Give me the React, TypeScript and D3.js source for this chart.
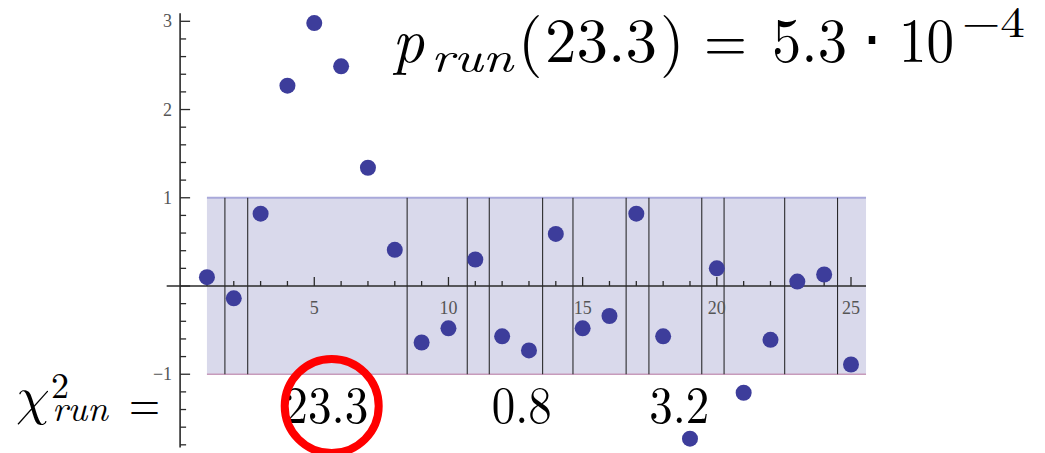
import React from "react";
import * as d3 from "d3";

const xValues = [1, 2, 3, 4, 5, 6, 7, 8, 9, 10, 11, 12, 13, 14, 15, 16, 17, 18, 19, 20, 21, 22, 23, 24, 25];
const residuals = [0.1, -0.14, 0.82, 2.27, 2.98, 2.49, 1.34, 0.41, -0.64, -0.48, 0.3, -0.57, -0.73, 0.59, -0.48, -0.34, 0.82, -0.57, -1.73, 0.2, -1.21, -0.61, 0.05, 0.13, -0.89];
const runBoundaries = [1.67, 2.52, 8.46, 10.7, 11.52, 13.51, 14.64, 16.62, 17.47, 19.44, 20.27, 22.53, 24.5];
const xTickLabels = [5, 10, 15, 20, 25];
const yTickLabels = [-1, 1, 2, 3];
const bandLimits = [-1, 1];
const bandXRange = [1, 25.56];
const runChi2 = [
  { label: "23.3", x: 5.45, width: 84 },
  { label: "0.8", x: 12.73, width: 60 },
  { label: "3.2", x: 18.6, width: 60 },
];

const W = 1045;
const H = 453;

const TICK_FONT = '"Liberation Serif", "Times New Roman", "Tinos"';
const MATH_FONT = '"Latin Modern Roman", "Liberation Serif"';
const GREEK_FONT = '"Latin Modern Math", "Latin Modern Roman", "Liberation Serif"';

function T(props: any) {
  const { family, ...rest } = props;
  return <text {...rest} style={{ fontFamily: family || MATH_FONT }} />;
}

export default function App() {
  const x = d3.scaleLinear().domain([0, 25]).range([180.1, 851]);
  const y = d3.scaleLinear().domain([0, 3]).range([286, 21.3]);

  const xMinor = d3.range(1, 26);
  const yMinor = d3.range(-9, 16).map((i) => i * 0.2);
  const tickColor = "#555";
  const axisColor = "#2a2a2a";

  return (
    <svg width={W} height={H} style={{ position: "absolute", left: 0, top: 0, background: "#fff" }}>
      {/* band */}
      <rect
        x={x(bandXRange[0])}
        y={y(bandLimits[1])}
        width={x(bandXRange[1]) - x(bandXRange[0])}
        height={y(bandLimits[0]) - y(bandLimits[1])}
        fill="#d9d9eb"
      />
      <line x1={x(bandXRange[0])} x2={x(bandXRange[1])} y1={y(bandLimits[1])} y2={y(bandLimits[1])} stroke="#a9a9da" strokeWidth={2} />
      <line x1={x(bandXRange[0])} x2={x(bandXRange[1])} y1={y(bandLimits[0])} y2={y(bandLimits[0])} stroke="#c79bbb" strokeWidth={1.5} />

      {/* run boundaries */}
      {runBoundaries.map((b, i) => (
        <line key={"rb" + i} x1={x(b)} x2={x(b)} y1={y(bandLimits[1])} y2={y(bandLimits[0])} stroke="#1a1a1a" strokeWidth={1} />
      ))}

      {/* y axis */}
      <line x1={x(0)} x2={x(0)} y1={y(3.09)} y2={y(-1.83)} stroke={axisColor} strokeWidth={1.6} />
      {yMinor.map((v, i) => {
        const major = Math.abs(v - Math.round(v)) < 1e-6;
        return (
          <line key={"yt" + i} x1={x(0)} x2={x(0) + (major ? 10 : 6)} y1={y(v)} y2={y(v)} stroke={axisColor} strokeWidth={1.3} />
        );
      })}
      {yTickLabels.map((v) => (
        <T key={"yl" + v} family={TICK_FONT} x={x(0) - 8} y={y(v) + 6} textAnchor="end" fontSize={18} fill={tickColor}>
          {v < 0 ? "\u2212" + Math.abs(v) : v}
        </T>
      ))}

      {/* x axis */}
      <line x1={x(-0.5)} x2={x(25.56)} y1={y(0)} y2={y(0)} stroke={axisColor} strokeWidth={1.6} />
      {xMinor.map((v) => {
        const major = v % 5 === 0;
        return (
          <line key={"xt" + v} x1={x(v)} x2={x(v)} y1={y(0)} y2={y(0) - (major ? 9 : 5)} stroke={axisColor} strokeWidth={1.3} />
        );
      })}
      {xTickLabels.map((v) => (
        <T key={"xl" + v} family={TICK_FONT} x={x(v)} y={y(0) + 28} textAnchor="middle" fontSize={18} fill={tickColor}>
          {v}
        </T>
      ))}

      {/* points */}
      {residuals.map((r, i) => (
        <circle key={"p" + i} cx={x(xValues[i])} cy={y(r)} r={8} fill="#3d3d9b" />
      ))}

      {/* top formula */}
      <g fill="#000">
        <T x={392} y={62} fontSize={63} fontStyle="italic">p</T>
        <T x={431} y={72} fontSize={44} fontStyle="italic" textLength={82} lengthAdjust="spacingAndGlyphs">run</T>
        <T x={518} y={62} fontSize={63}>(</T>
        <T x={545} y={62} fontSize={63} textLength={112} lengthAdjust="spacingAndGlyphs">23.3</T>
        <T x={660} y={62} fontSize={63}>)</T>
        <T x={704} y={62} fontSize={63} textLength={43} lengthAdjust="spacingAndGlyphs">=</T>
        <T x={772} y={62} fontSize={63} textLength={75} lengthAdjust="spacingAndGlyphs">5.3</T>
        <T x={872} y={62} fontSize={63} textAnchor="middle">{"\u22C5"}</T>
        <T x={899} y={62} fontSize={63} textLength={55} lengthAdjust="spacingAndGlyphs">10</T>
        <T x={962} y={37} fontSize={44} textLength={63} lengthAdjust="spacingAndGlyphs">{"\u22124"}</T>
      </g>

      {/* chi^2 run label */}
      <g fill="#000">
        <T family={GREEK_FONT} x={14} y={414} fontSize={54} fontStyle="italic">{"\u03C7"}</T>
        <T x={51} y={398} fontSize={36}>2</T>
        <T x={52} y={421} fontSize={37} fontStyle="italic" textLength={56} lengthAdjust="spacingAndGlyphs">run</T>
        <T x={129} y={421} fontSize={53} textLength={31} lengthAdjust="spacingAndGlyphs">=</T>
        {runChi2.map((c) => (
          <T key={c.label} x={x(c.x)} y={423} fontSize={52} textAnchor="middle" textLength={c.width} lengthAdjust="spacingAndGlyphs">
            {c.label}
          </T>
        ))}
      </g>

      {/* red circle */}
      <circle cx={331.7} cy={406} r={47} fill="none" stroke="#ff0000" strokeWidth={8} />
    </svg>
  );
}
